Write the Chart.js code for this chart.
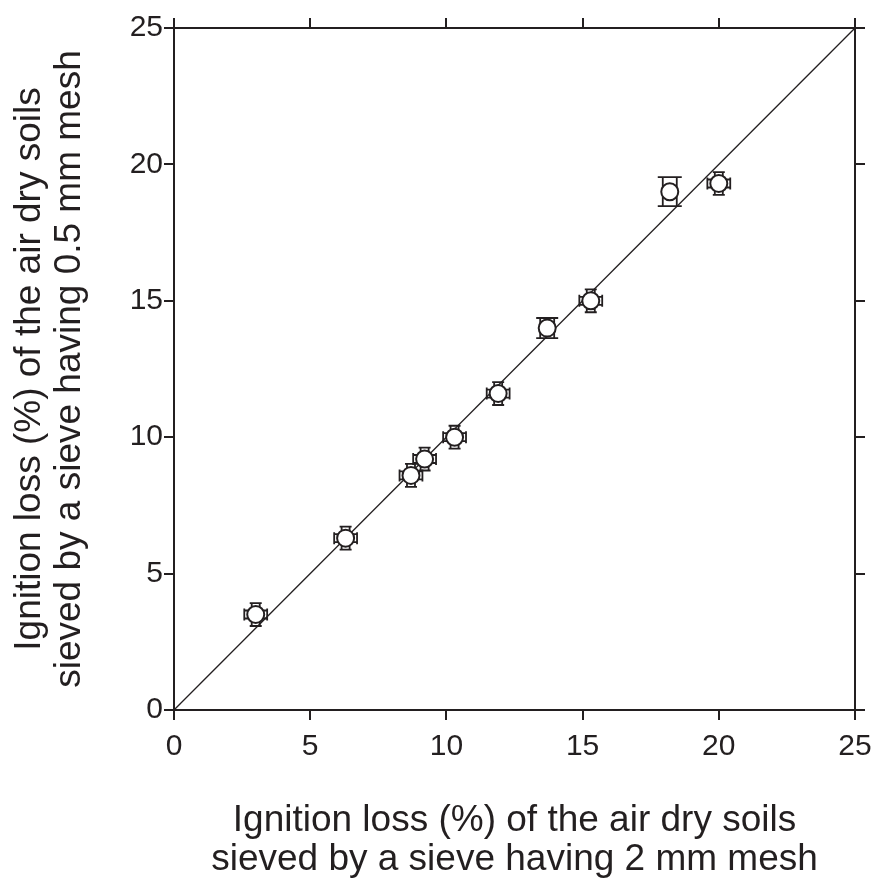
<!DOCTYPE html>
<html>
<head>
<meta charset="utf-8">
<script src="https://cdn.jsdelivr.net/npm/chart.js@4.4.1/dist/chart.umd.min.js"></script>
<style>
  body { margin: 0; background: #fff; }
  #wrap { width: 875px; height: 879px; }
</style>
</head>
<body>
<div id="wrap"><canvas id="chart" width="875" height="879"></canvas></div>
<script>
// ignition loss, 2 mm sieve (x) vs 0.5 mm sieve (y)
const xVals = [3.0, 6.3, 8.7, 9.2, 10.3, 11.9, 13.7, 15.3, 18.2, 20.0];
const yVals = [3.5, 6.3, 8.6, 9.2, 10.0, 11.6, 14.0, 15.0, 19.0, 19.3];
const xErr = [0.42, 0.42, 0.42, 0.42, 0.42, 0.42, 0.25, 0.42, 0.25, 0.42];
const yErr = [0.42, 0.42, 0.42, 0.42, 0.42, 0.42, 0.37, 0.42, 0.53, 0.42];
const axisTicks = [0, 5, 10, 15, 20, 25];

const ink = '#231f20';
const fontFamily = '"Liberation Sans", Arial, sans-serif';

// bar drawing style per point: spacing of the twin bar lines, half width of caps
const barGap = [4, 4, 4, 4, 4, 4, 7, 4, 7, 4];
const capHalf = [6, 6, 6, 6, 6, 6, 11, 6, 12, 6];

const points = xVals.map((x, i) => ({ x: x, y: yVals[i] }));

const errorBars = {
    id: 'errorBars',
    beforeDatasetsDraw(chart) {
        const ctx = chart.ctx;
        const xs = chart.scales.x, ys = chart.scales.y;
        ctx.save();
        ctx.strokeStyle = ink;
        ctx.lineWidth = 1.8;
        points.forEach((p, i) => {
            const cx = xs.getPixelForValue(p.x);
            const cy = ys.getPixelForValue(p.y);
            const yTop = ys.getPixelForValue(p.y + yErr[i]);
            const yBot = ys.getPixelForValue(p.y - yErr[i]);
            const xL = xs.getPixelForValue(p.x - xErr[i]);
            const xR = xs.getPixelForValue(p.x + xErr[i]);
            const g = barGap[i], c = capHalf[i];
            ctx.beginPath();
            // vertical bar
            ctx.moveTo(cx - g, yTop); ctx.lineTo(cx - g, yBot);
            ctx.moveTo(cx + g, yTop); ctx.lineTo(cx + g, yBot);
            ctx.moveTo(cx - c, yTop); ctx.lineTo(cx + c, yTop);
            ctx.moveTo(cx - c, yBot); ctx.lineTo(cx + c, yBot);
            // horizontal bar
            if (xR - xL > 2 * 8) {
                ctx.moveTo(xL, cy - g); ctx.lineTo(xR, cy - g);
                ctx.moveTo(xL, cy + g); ctx.lineTo(xR, cy + g);
                ctx.moveTo(xL, cy - 6); ctx.lineTo(xL, cy + 6);
                ctx.moveTo(xR, cy - 6); ctx.lineTo(xR, cy + 6);
            }
            ctx.stroke();
        });
        ctx.restore();
    }
};

function frameAxis(pos, size) {
    return {
        type: 'linear',
        position: pos,
        min: 0,
        max: 25,
        afterBuildTicks: s => { s.ticks = axisTicks.map(v => ({ value: v })); },
        ticks: { display: false },
        grid: { drawOnChartArea: false, drawTicks: true, tickLength: 10, color: ink, lineWidth: 2 },
        border: { display: true, color: ink, width: 2 },
        afterFit: s => {
            if (pos === 'top') s.height = size; else s.width = size;
            s.paddingLeft = s.paddingRight = s.paddingTop = s.paddingBottom = 0;
        }
    };
}

new Chart(document.getElementById('chart'), {
    type: 'scatter',
    data: {
        datasets: [
            {
                data: points,
                pointStyle: 'circle',
                pointRadius: 8.5,
                pointHoverRadius: 8.5,
                pointBorderWidth: 2,
                pointBackgroundColor: '#fff',
                pointBorderColor: ink,
                order: 0
            },
            {
                type: 'line',
                data: [{ x: 0, y: 0 }, { x: 25, y: 25 }],
                borderColor: ink,
                borderWidth: 1.3,
                pointRadius: 0,
                fill: false,
                order: 1
            }
        ]
    },
    options: {
        responsive: false,
        animation: false,
        layout: { padding: 0 },
        plugins: { legend: { display: false }, tooltip: { enabled: false } },
        scales: {
            x: {
                type: 'linear',
                position: 'bottom',
                min: 0,
                max: 25,
                afterBuildTicks: s => { s.ticks = axisTicks.map(v => ({ value: v })); },
                ticks: { color: ink, font: { family: fontFamily, size: 30 }, padding: 9 },
                grid: { drawOnChartArea: false, drawTicks: true, tickLength: 10, color: ink, lineWidth: 2 },
                border: { display: true, color: ink, width: 2 },
                title: {
                    display: true,
                    text: ['Ignition loss (%) of the air dry soils', 'sieved by a sieve having 2 mm mesh'],
                    color: ink,
                    font: { family: fontFamily, size: 37, lineHeight: 1.05 },
                    padding: { top: 0, bottom: 0 }
                },
                afterFit: s => {
                    s.height = 169;
                    s.paddingLeft = 0;
                    s.paddingRight = 0;
                }
            },
            y: {
                type: 'linear',
                position: 'left',
                min: 0,
                max: 25,
                afterBuildTicks: s => { s.ticks = axisTicks.map(v => ({ value: v })); },
                ticks: { color: ink, font: { family: fontFamily, size: 30 }, padding: 1 },
                grid: { drawOnChartArea: false, drawTicks: true, tickLength: 10, color: ink, lineWidth: 2 },
                border: { display: true, color: ink, width: 2 },
                title: {
                    display: true,
                    text: ['Ignition loss (%) of the air dry soils', 'sieved by a sieve having 0.5 mm mesh'],
                    color: ink,
                    font: { family: fontFamily, size: 37, lineHeight: 1.08 },
                    padding: { top: 10, bottom: 0 }
                },
                afterFit: s => {
                    s.width = 174;
                    s.paddingTop = 0;
                    s.paddingBottom = 0;
                }
            },
            x2: frameAxis('top', 28),
            y2: frameAxis('right', 20)
        }
    },
    plugins: [errorBars]
});
</script>
</body>
</html>
